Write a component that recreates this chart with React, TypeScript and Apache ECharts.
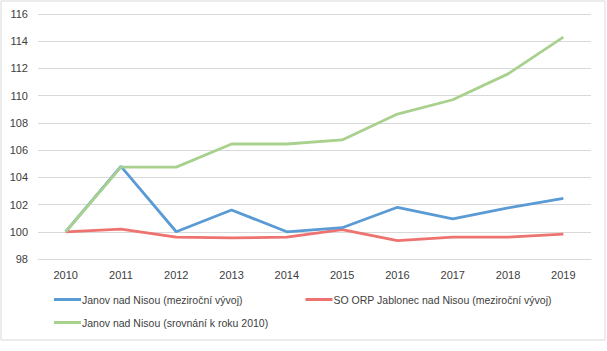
import React, { useEffect, useRef } from "react";
import * as echarts from "echarts";

const years = ["2010", "2011", "2012", "2013", "2014", "2015", "2016", "2017", "2018", "2019"];
const janovYoY = [100, 104.8, 100.0, 101.6, 100.0, 100.3, 101.8, 100.95, 101.75, 102.45];
const orpYoY = [100, 100.2, 99.6, 99.55, 99.6, 100.15, 99.35, 99.6, 99.6, 99.83];
const janovIdx = [100, 104.75, 104.75, 106.45, 106.45, 106.75, 108.65, 109.7, 111.6, 114.3];

const names = [
  "Janov nad Nisou (meziroční vývoj)",
  "SO ORP Jablonec nad Nisou (meziroční vývoj)",
  "Janov nad Nisou (srovnání k roku 2010)",
];
const colors = ["#5B9BD5", "#EE7370", "#A9D18E"];

export default function App() {
  const ref = useRef<HTMLDivElement>(null);
  useEffect(() => {
    const chart = echarts.init(ref.current!, null, { renderer: "svg" });
    const font = "'Liberation Sans', Arial, sans-serif";
    const mk = (i: number, data: number[], z: number) => ({
      name: names[i],
      type: "line",
      data,
      symbol: "none",
      lineStyle: { color: colors[i], width: 2.8 },
      itemStyle: { color: colors[i] },
      z,
    });
    const legendBase = {
      left: 54,
      padding: 0,
      itemWidth: 27,
      itemHeight: 3,
      itemGap: 63,
      icon: "rect",
      orient: "horizontal",
      textStyle: { color: "#404040", fontSize: 10.5, fontFamily: font, padding: [0, 0, 0, -4] },
    };
    chart.setOption({
      animation: false,
      backgroundColor: "#ffffff",
      graphic: [
        {
          type: "rect",
          shape: { x: 1, y: 1, width: 604, height: 339 },
          style: { fill: "none", stroke: "#d9d9d9", lineWidth: 1 },
          z: -1,
        },
      ],
      grid: { left: 38, right: 16, top: 14, bottom: 92, containLabel: false },
      xAxis: {
        type: "category",
        data: years,
        boundaryGap: true,
        axisLine: { show: true, lineStyle: { color: "#d9d9d9" } },
        axisTick: { show: false },
        axisLabel: { color: "#404040", fontSize: 11, fontFamily: font, margin: 10 },
      },
      yAxis: {
        type: "value",
        min: 98,
        max: 116,
        interval: 2,
        axisLine: { show: false },
        axisTick: { show: false },
        splitLine: { lineStyle: { color: "#d9d9d9", width: 1 } },
        axisLabel: { color: "#404040", fontSize: 11, fontFamily: font, margin: 10 },
      },
      legend: [
        { ...legendBase, top: 294, data: [names[0], names[1]] },
        { ...legendBase, top: 317, data: [names[2]] },
      ],
      series: [mk(0, janovYoY, 3), mk(1, orpYoY, 2), mk(2, janovIdx, 4)],
    });
    return () => chart.dispose();
  }, []);
  return (
    <div
      ref={ref}
      style={{ position: "fixed", left: 0, top: 0, width: 607, height: 351 }}
    />
  );
}
